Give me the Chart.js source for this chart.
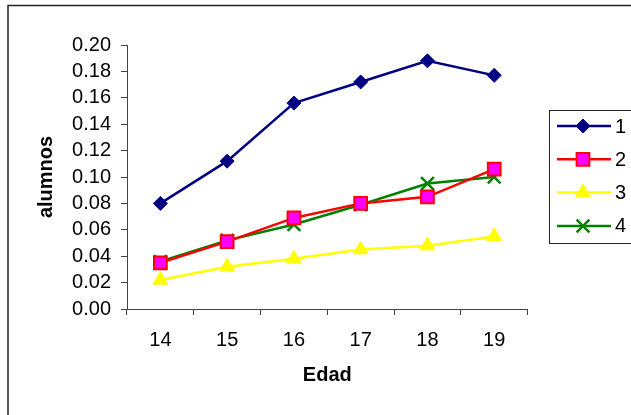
<!DOCTYPE html>
<html>
<head>
<meta charset="utf-8">
<script src="https://cdn.jsdelivr.net/npm/chart.js@4/dist/chart.umd.min.js"></script>
<style>
  html, body { margin: 0; padding: 0; background: #fff; }
  #wrap { width: 631px; height: 415px; }
</style>
</head>
<body>
<div id="wrap"><canvas id="myChart" width="631" height="415"></canvas></div>
<script>
// data
const edades = ["14", "15", "16", "17", "18", "19"];
const serie1 = [0.080, 0.112, 0.156, 0.172, 0.188, 0.177];
const serie2 = [0.035, 0.051, 0.069, 0.080, 0.085, 0.106];
const serie3 = [0.022, 0.032, 0.038, 0.045, 0.048, 0.055];
const serie4 = [0.036, 0.052, 0.064, 0.079, 0.095, 0.100];
const nombres = ["1", "2", "3", "4"];
const yTicks = [0, 0.02, 0.04, 0.06, 0.08, 0.10, 0.12, 0.14, 0.16, 0.18, 0.20];

const FONT = "'Liberation Sans', Arial, sans-serif";

// outer frame around the whole chart
const frame = {
  id: "frame",
  beforeDraw(chart) {
    const ctx = chart.ctx;
    ctx.save();
    ctx.fillStyle = "#fff";
    ctx.fillRect(0, 0, chart.width, chart.height);
    ctx.strokeStyle = "#222";
    ctx.lineWidth = 1.5;
    ctx.strokeRect(8, 5.5, chart.width, chart.height);
    ctx.restore();
  }
};

// legend: line + marker + label, in a box
const legendBox = {
  id: "legendBox",
  afterDraw(chart) {
    const ctx = chart.ctx;
    const left = Math.round(chart.chartArea.right + 21.5);
    const top = 110;
    ctx.save();
    ctx.strokeStyle = "#222";
    ctx.lineWidth = 1;
    ctx.strokeRect(left + 0.5, top + 0.5, 100, 133);
    chart.data.datasets.forEach((ds, i) => {
      const y = top + 16 + i * 33.3;
      ctx.strokeStyle = ds.borderColor;
      ctx.lineWidth = ds.borderWidth;
      ctx.beginPath();
      ctx.moveTo(left + 8, y);
      ctx.lineTo(left + 62, y);
      ctx.stroke();
      ctx.fillStyle = ds.pointBackgroundColor;
      ctx.strokeStyle = ds.pointBorderColor;
      ctx.lineWidth = ds.pointBorderWidth;
      Chart.helpers.drawPoint(ctx, {
        pointStyle: ds.pointStyle,
        radius: ds.pointRadius,
        rotation: 0,
        borderWidth: ds.pointBorderWidth
      }, left + 34, y);
      ctx.fillStyle = "#000";
      ctx.font = "20px " + FONT;
      ctx.textBaseline = "middle";
      ctx.fillText(ds.label, left + 66, y + 1);
    });
    ctx.restore();
  }
};

function serie(label, data, color, fill, style, radius, bw) {
  return {
    label: label,
    data: data,
    borderColor: color,
    borderWidth: 2.5,
    pointStyle: style,
    pointRadius: radius,
    pointHoverRadius: radius,
    pointBackgroundColor: fill,
    pointBorderColor: color,
    pointBorderWidth: bw,
    tension: 0
  };
}

new Chart(document.getElementById("myChart"), {
  type: "line",
  data: {
    labels: edades,
    datasets: [
      serie(nombres[0], serie1, "#000080", "#000080", "rectRot", 7, 1),
      serie(nombres[1], serie2, "#ff0000", "#ff00ff", "rect", 9, 2),
      serie(nombres[2], serie3, "#ffff00", "#ffff00", "triangle", 8.5, 1),
      serie(nombres[3], serie4, "#008000", "#008000", "crossRot", 9, 2.5)
    ]
  },
  options: {
    responsive: false,
    animation: false,
    devicePixelRatio: 1,
    layout: { padding: { left: 30, top: 45, right: 103.4, bottom: 23.5 } },
    plugins: { legend: { display: false }, tooltip: { enabled: false } },
    scales: {
      x: {
        offset: true,
        grid: { drawOnChartArea: false, tickLength: 6, color: "#444", offset: true },
        border: { color: "#444" },
        ticks: { color: "#000", font: { family: FONT, size: 20 }, padding: 13, maxRotation: 0, autoSkip: false },
        title: { display: true, text: "Edad", color: "#000", font: { family: FONT, size: 20, weight: "bold" } },
        afterFit(scale) { scale.height = 82.5; }
      },
      y: {
        min: 0,
        max: 0.2,
        afterBuildTicks(scale) { scale.ticks = yTicks.map(v => ({ value: v })); },
        grid: { drawOnChartArea: false, tickLength: 6, color: "#444" },
        border: { color: "#444" },
        ticks: {
          color: "#000",
          font: { family: FONT, size: 20 },
          padding: 10,
          autoSkip: false,
          callback: v => Number(v).toFixed(2)
        },
        title: { display: true, text: "alumnos", color: "#000", font: { family: FONT, size: 20, weight: "bold" } },
        afterFit(scale) { scale.width = 97; }
      }
    }
  },
  plugins: [frame, legendBox]
});
</script>
</body>
</html>
